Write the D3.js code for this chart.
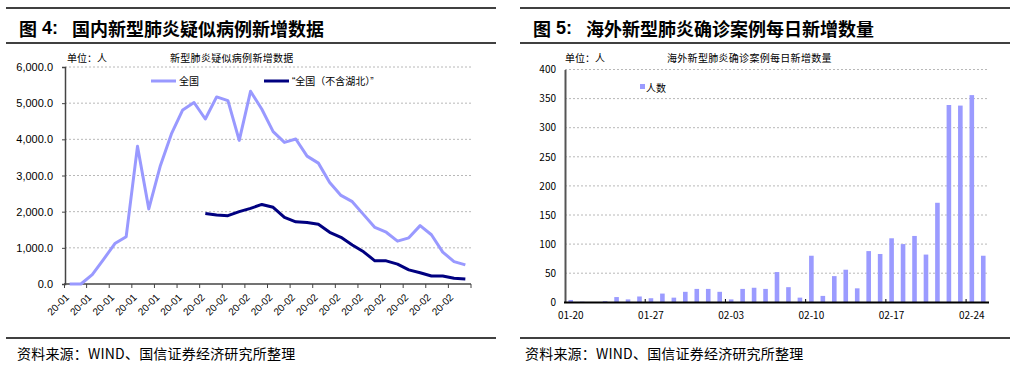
<!DOCTYPE html>
<html><head><meta charset="utf-8">
<script src="https://cdn.jsdelivr.net/npm/d3@7"></script>
<style>
html,body{margin:0;padding:0;background:#fff;}
svg{display:block;}
</style></head>
<body>
<svg id="c" width="1020" height="368"></svg>
<script>
// ---------- Left chart data ----------
const leftDates = ["2020-01-20","2020-01-21","2020-01-22","2020-01-23","2020-01-24","2020-01-25","2020-01-26","2020-01-27","2020-01-28","2020-01-29","2020-01-30","2020-01-31",
  "2020-02-01","2020-02-02","2020-02-03","2020-02-04","2020-02-05","2020-02-06","2020-02-07","2020-02-08","2020-02-09","2020-02-10","2020-02-11","2020-02-12",
  "2020-02-13","2020-02-14","2020-02-15","2020-02-16","2020-02-17","2020-02-18","2020-02-19","2020-02-20","2020-02-21","2020-02-22","2020-02-23","2020-02-24"];
const allChina = [0,0,257,680,1118,1309,3806,2077,3248,4148,4812,5019,4562,5173,5072,3971,5328,4833,4214,3916,4008,3536,3342,2807,2450,2277,1918,1563,1432,1185,1277,1614,1361,882,620,530];
const exHubei = [null,null,null,null,null,null,null,null,null,null,null,null,
  1950,1910,1890,2000,2090,2200,2120,1840,1720,1700,1650,1430,1290,1080,890,640,640,550,390,310,220,220,160,140];
const leftYTicks = [0,1000,2000,3000,4000,5000,6000];
const leftSeriesNames = ["全国","“全国（不含湖北）”"];

// ---------- Right chart data ----------
const rightDates = ["01-20","01-21","01-22","01-23","01-24","01-25","01-26","01-27","01-28","01-29","01-30","01-31",
  "02-01","02-02","02-03","02-04","02-05","02-06","02-07","02-08","02-09","02-10","02-11","02-12","02-13","02-14",
  "02-15","02-16","02-17","02-18","02-19","02-20","02-21","02-22","02-23","02-24","02-25"];
const overseas = [4,1,0,2,9,5,10,7,15,8,18,23,23,18,5,23,25,23,52,26,8,80,11,45,56,24,88,83,110,100,114,82,171,339,338,356,80];
const rightXTicks = ["01-20","01-27","02-03","02-10","02-17","02-24"];
const rightYTicks = [0,50,100,150,200,250,300,350,400];
const rightSeriesName = "人数";

const CJK = "'Noto Sans CJK SC','Noto Sans',sans-serif";
const ARIAL = "'Liberation Sans',Arial,sans-serif";
const MIX = "'Liberation Sans','Noto Sans CJK SC',sans-serif";
const LIGHT = "#9999ff", DARK = "#000080";

const svg = d3.select("#c");

// ---------- Frames / titles ----------
function frame(x0, x1, titleX, num, title, subX, subTitle, unitX, srcX){
  [8,43,338].forEach(yy=>{
    svg.append("line").attr("x1",x0).attr("x2",x1).attr("y1",yy).attr("y2",yy).attr("stroke","#000").attr("stroke-width",1.5);
  });
  const t = svg.append("g").attr("font-weight","bold").attr("fill","#000");
  t.append("text").attr("x",titleX).attr("y",28).attr("dominant-baseline","central")
    .attr("font-family",CJK).attr("font-size",18).text("图");
  t.append("text").attr("x",titleX+23).attr("y",28).attr("dominant-baseline","central")
    .attr("font-family",ARIAL).attr("font-size",18).text(num+":");
  t.append("text").attr("x",titleX+53).attr("y",28).attr("dominant-baseline","central")
    .attr("font-family",CJK).attr("font-size",18).text(title);
  svg.append("text").attr("x",unitX).attr("y",57).attr("dominant-baseline","central")
    .attr("font-family",CJK).attr("font-size",10).attr("fill","#000").text("单位：人");
  svg.append("text").attr("x",subX).attr("y",57).attr("dominant-baseline","central")
    .attr("font-family",CJK).attr("font-size",10).attr("letter-spacing",0.3).attr("fill","#000").text(subTitle);
  svg.append("text").attr("x",srcX).attr("y",353).attr("dominant-baseline","central")
    .attr("font-family",CJK).attr("font-size",14).attr("letter-spacing",0.2).attr("fill","#000").text("资料来源：WIND、国信证券经济研究所整理");
}
frame(6,496,19,"4","国内新型肺炎疑似病例新增数据",170,"新型肺炎疑似病例新增数据",67,17);
frame(520,1010,533,"5","海外新型肺炎确诊案例每日新增数量",667,"海外新型肺炎确诊案例每日新增数量",565,525);

// ---------- Left chart ----------
{
  const x = d3.scaleBand().domain(leftDates).range([64,471]);
  const y = d3.scaleLinear().domain([0,6000]).range([284,67]);
  const g = svg.append("g");
  g.selectAll("line.grid").data(leftYTicks.filter(d=>d>0)).join("line")
    .attr("x1",65).attr("x2",471).attr("y1",d=>y(d)).attr("y2",d=>y(d))
    .attr("stroke","#b8b8b8").attr("stroke-dasharray","2,2").attr("stroke-width",1);
  const ya = d3.axisLeft(y).tickValues(leftYTicks).tickSize(3).tickFormat(d3.format(",.1f"));
  const yg = g.append("g").attr("transform","translate(65,0)").call(ya);
  yg.select(".domain").attr("stroke","#444").attr("stroke-width",1.5);
  yg.selectAll(".tick line").attr("stroke","#444");
  yg.selectAll(".tick text").attr("font-family",ARIAL).attr("font-size",11).attr("fill","#000").attr("x",-12);
  g.append("line").attr("x1",64).attr("x2",471).attr("y1",284).attr("y2",284).attr("stroke","#444").attr("stroke-width",1.5);
  const bounds = leftDates.filter((d,i)=>i%2===1);
  g.selectAll("line.xt").data(bounds).join("line")
    .attr("x1",d=>x(d)+x.bandwidth()).attr("x2",d=>x(d)+x.bandwidth())
    .attr("y1",284).attr("y2",288).attr("stroke","#444");
  g.append("line").attr("x1",64.5).attr("x2",64.5).attr("y1",284).attr("y2",288).attr("stroke","#444");
  const fmt = d3.timeFormat("%y-%m"), parse = d3.timeParse("%Y-%m-%d");
  g.selectAll("text.xl").data(leftDates.filter((d,i)=>i%2===0)).join("text")
    .attr("transform",d=>`translate(${x(d)+x.bandwidth()/2},298) rotate(-45)`)
    .attr("text-anchor","end").attr("font-family",ARIAL).attr("font-size",10).attr("fill","#000")
    .text(d=>fmt(parse(d)));
  const cx = (d,i)=>x(leftDates[i])+x.bandwidth()/2;
  const lineAll = d3.line().x(cx).y(d=>y(d));
  g.append("path").datum(allChina).attr("d",lineAll).attr("fill","none").attr("stroke",LIGHT).attr("stroke-width",3).attr("stroke-linejoin","round");
  const lineEx = d3.line().defined(d=>d!==null).x(cx).y(d=>y(d));
  g.append("path").datum(exHubei).attr("d",lineEx).attr("fill","none").attr("stroke",DARK).attr("stroke-width",3).attr("stroke-linejoin","round");
  const lg = [{x:151,c:LIGHT,t:leftSeriesNames[0]},{x:264,c:DARK,t:leftSeriesNames[1]}];
  lg.forEach(l=>{
    g.append("line").attr("x1",l.x).attr("x2",l.x+25).attr("y1",81).attr("y2",81).attr("stroke",l.c).attr("stroke-width",3);
    g.append("text").attr("x",l.x+28).attr("y",81).attr("dominant-baseline","central")
      .attr("font-family",MIX).attr("font-size",10).attr("fill","#000").text(l.t);
  });
}

// ---------- Right chart ----------
{
  const x = d3.scaleBand().domain(rightDates).range([565,989]);
  const y = d3.scaleLinear().domain([0,400]).range([302.3,69.5]);
  const g = svg.append("g");
  g.selectAll("line.grid").data(rightYTicks.filter(d=>d>0)).join("line")
    .attr("x1",565).attr("x2",989).attr("y1",d=>y(d)).attr("y2",d=>y(d))
    .attr("stroke","#b8b8b8").attr("stroke-dasharray","2,2").attr("stroke-width",1);
  const bw = 4.6;
  g.selectAll("rect.bar").data(overseas).join("rect")
    .attr("x",(d,i)=>x(rightDates[i])+x.bandwidth()/2-bw/2)
    .attr("y",d=>y(d)).attr("width",bw).attr("height",d=>y(0)-y(d))
    .attr("fill","#9b9bff");
  const ya = d3.axisLeft(y).tickValues(rightYTicks).tickSize(0).tickPadding(9);
  const yg = g.append("g").attr("transform","translate(565,0)").call(ya);
  yg.select(".domain").attr("stroke","#555").attr("stroke-width",2);
  yg.selectAll(".tick text").attr("font-family",CJK).attr("font-size",10).attr("fill","#000");
  g.append("line").attr("x1",564).attr("x2",989).attr("y1",302.5).attr("y2",302.5).attr("stroke","#000").attr("stroke-width",2);
  g.selectAll("line.xt").data(rightXTicks.slice(1)).join("line")
    .attr("x1",d=>x(d)).attr("x2",d=>x(d)).attr("y1",302).attr("y2",299).attr("stroke","#000");
  g.selectAll("text.xl").data(rightXTicks).join("text")
    .attr("x",d=>x(d)+x.bandwidth()/2).attr("y",314).attr("dominant-baseline","central")
    .attr("text-anchor","middle").attr("font-family",CJK).attr("font-size",10).attr("fill","#000").text(d=>d);
  g.append("rect").attr("x",640).attr("y",84).attr("width",5).attr("height",5).attr("fill","#9b9bff");
  g.append("text").attr("x",646).attr("y",87).attr("dominant-baseline","central")
    .attr("font-family",CJK).attr("font-size",10).attr("fill","#000").text(rightSeriesName);
}
</script>
</body></html>
